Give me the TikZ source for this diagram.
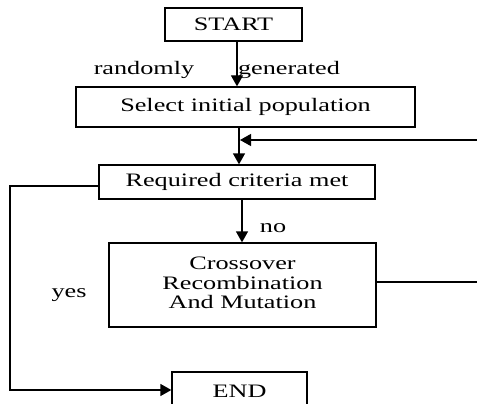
\documentclass[tikz,border=0pt]{standalone}
\usepackage{fontspec}
\setmainfont{Liberation Serif}
\usetikzlibrary{arrows.meta,calc}
\newcommand{\sx}[1]{\scalebox{1.38}[1]{#1}}
\begin{document}
\begin{tikzpicture}[x=1pt,y=-1pt,
  box/.style={draw,line width=1.3pt,rectangle,inner sep=0pt,font=\fontsize{19}{20}\selectfont},
  lbl/.style={inner sep=0pt,font=\fontsize{19}{20}\selectfont},
  conn/.style={line width=1.3pt},
  arr/.style={conn,-{Triangle[length=11pt,width=12pt]}}]
\useasboundingbox (0,0) rectangle (477,404);
\node[box,minimum width=137pt,minimum height=33pt] (start) at (233.5,24.5) {\sx{START}};
\node[box,minimum width=339pt,minimum height=40pt] (select) at (245.5,107) {\sx{Select initial population}};
\node[box,minimum width=276pt,minimum height=34pt] (req) at (237,182) {\sx{Required criteria met}};
\node[box,minimum width=267pt,minimum height=84pt] (cross) at (242.5,285) {\sx{\begin{tabular}{@{}c@{}}Crossover\\[-0.5pt]Recombination\\[-0.5pt]And Mutation\end{tabular}}};
\node[box,minimum width=135pt,minimum height=40pt] (end) at (239.5,392) {\raisebox{2pt}{\sx{END}}};
\node[lbl] (rand) at (144,70) {\sx{randomly}};
\node[lbl] (gen) at (289,70) {\sx{generated}};
\node[lbl] (no) at (273,228) {\sx{no}};
\node[lbl] (yes) at (69,295) {\sx{yes}};
\coordinate (j) at (240,140);
\coordinate (fa) at (481,140);
\coordinate (fb) at (481,282);
\coordinate (ly) at (10,186);
\coordinate (lb) at (10,390);
\draw[arr] ([xshift=3.5pt]start.south) -- ([xshift=3.5pt]start.south |- select.north);
\draw[arr] ([xshift=-6.5pt]select.south) -- ([xshift=-6.5pt]select.south |- req.north);
\draw[arr] (fb) -- (fa) -- (j);
\draw[conn] ([yshift=3pt]cross.east) -- (fb);
\draw[arr] ([xshift=5pt]req.south) -- ([xshift=5pt]req.south |- cross.north);
\draw[arr] ([yshift=-4pt]req.west) -- (ly) -- (lb) -- (lb -| end.west);
\end{tikzpicture}
\end{document}
